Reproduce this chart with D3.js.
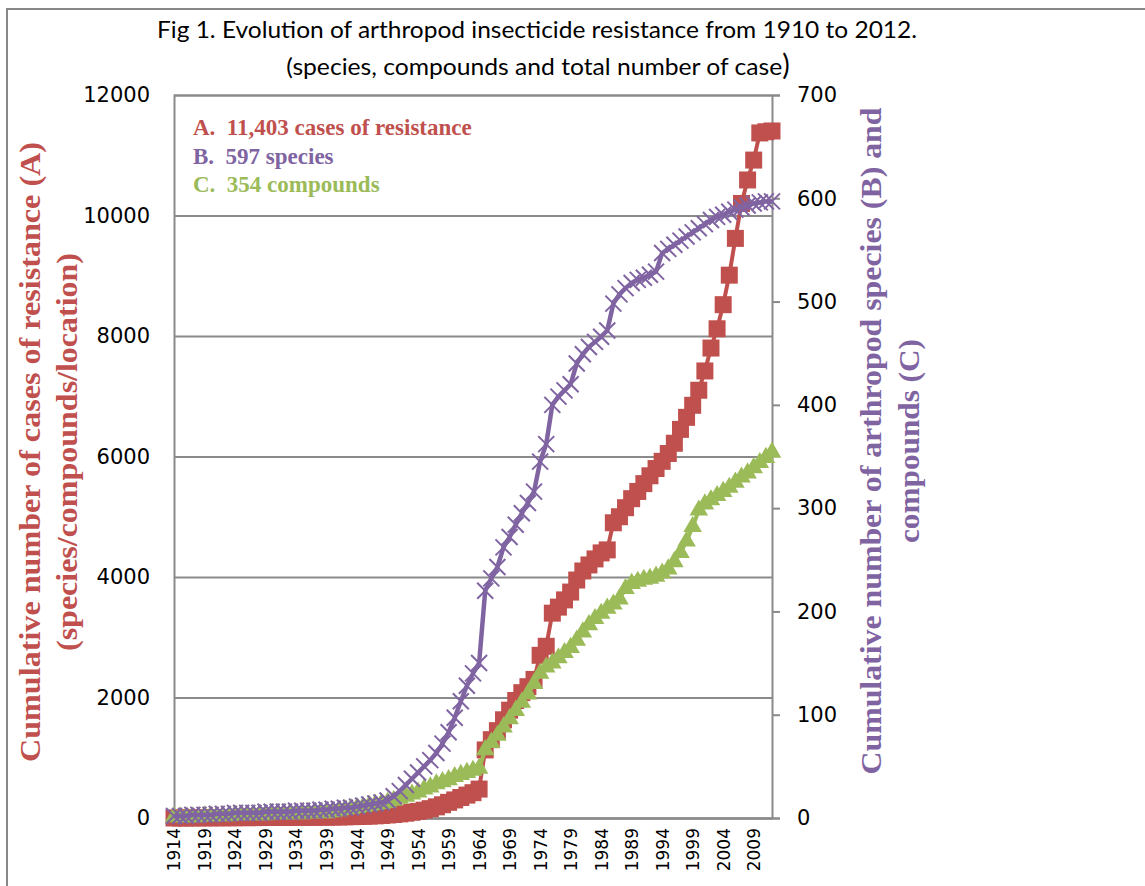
<!DOCTYPE html>
<html>
<head>
<meta charset="utf-8">
<script src="https://cdn.jsdelivr.net/npm/d3@7"></script>
<style>
  html, body { margin: 0; padding: 0; background: #ffffff; }
  svg { display: block; }
  text { white-space: pre; }
</style>
</head>
<body>
<svg id="chart" width="1145" height="886"></svg>
<script>
// ---------------- DATA ----------------
const years = [1914,1915,1916,1917,1918,1919,1920,1921,1922,1923,1924,1925,1926,1927,1928,1929,
  1930,1931,1932,1933,1934,1935,1936,1937,1938,1939,1940,1941,1942,1943,1944,1945,1946,1947,1948,1949,
  1950,1951,1952,1953,1954,1955,1956,1957,1958,1959,1960,1961,1962,1963,1964,1965,1966,1967,1968,1969,
  1970,1971,1972,1973,1974,1975,1976,1977,1978,1979,1980,1981,1982,1983,1984,1985,1986,1987,1988,1989,
  1990,1991,1992,1993,1994,1995,1996,1997,1998,1999,2000,2001,2002,2003,2004,2005,2006,2007,2008,2009,
  2010,2011,2012];

// A: cumulative cases of resistance (left axis)
const cases = [0,1,1,2,2,3,3,4,4,5,5,6,6,7,7,8,
  8,9,9,10,10,11,12,13,14,15,16,18,20,22,25,28,32,36,42,50,
  58,68,80,95,110,130,155,185,220,260,300,340,380,420,480,1130,1300,1450,1630,1790,
  1950,2080,2180,2300,2700,2850,3400,3500,3620,3750,3950,4100,4200,4300,4400,4450,4900,5000,5150,5300,
  5420,5550,5680,5800,5920,6050,6220,6450,6650,6850,7100,7420,7800,8120,8520,9010,9620,10200,10590,10920,
  11370,11390,11403];

// B: cumulative arthropod species (right axis)
const species = [2,2,2,3,3,3,3,4,4,4,5,5,5,5,5,6,
  6,6,6,6,7,7,7,7,8,8,9,9,10,10,11,12,13,14,15,17,
  21,26,32,38,44,50,56,63,72,83,97,113,128,140,150,220,232,243,262,272,
  284,295,305,316,345,362,400,408,414,420,440,449,456,461,466,472,498,507,513,518,
  521,523,526,529,547,551,555,559,563,567,571,575,579,582,584,587,589,591,593,595,
  596,597,597];

// C: cumulative compounds (right axis)
const compounds = [1,1,1,1,1,2,2,2,2,2,3,3,3,3,3,3,
  4,4,4,4,4,4,5,5,5,5,6,7,8,9,10,11,12,13,14,15,
  17,19,21,23,25,28,30,33,35,37,40,42,44,46,48,66,73,80,88,96,
  104,112,120,130,140,146,150,155,160,165,172,180,187,193,198,203,207,212,222,227,
  229,231,232,234,237,241,248,257,268,282,298,304,308,312,316,320,325,330,334,339,
  344,349,354];

const xTickYears = [1914,1919,1924,1929,1934,1939,1944,1949,1954,1959,1964,1969,1974,1979,1984,1989,1994,1999,2004,2009];
const leftTicks = [0,2000,4000,6000,8000,10000,12000];
const rightTicks = [0,100,200,300,400,500,600,700];

const titleLine1 = "Fig 1. Evolution of arthropod insecticide resistance from 1910 to 2012.";
const titleLine2 = "(species, compounds and total number of case";
const legendItems = ["A.  11,403 cases of resistance", "B.  597 species", "C.  354 compounds"];
const leftTitle = ["Cumulative number of cases of resistance (A)", "(species/compounds/location)"];
const rightTitle = ["Cumulative number of arthropod species (B) and", "compounds (C)"];

// ---------------- STYLE ----------------
const RED = "#C0504D", PURPLE = "#8064A2", GREEN = "#9BBB59", GRID = "#8a8a8a";
const plot = {left: 174, right: 772, top: 95, bottom: 818};

const svg = d3.select("#chart");

// outer frame
svg.append("rect").attr("x", 7).attr("y", 9).attr("width", 1300).attr("height", 1000)
  .attr("fill", "none").attr("stroke", "#888").attr("stroke-width", 2);

const x = d3.scalePoint().domain(years).range([plot.left, plot.right]);
const yL = d3.scaleLinear().domain([0, 12000]).range([plot.bottom, plot.top]);
const yR = d3.scaleLinear().domain([0, 700]).range([plot.bottom, plot.top]);

// gridlines (left axis) with labels
const gL = svg.append("g").attr("transform", `translate(${plot.left},0)`)
  .call(d3.axisLeft(yL).tickValues(leftTicks).tickSize(-(plot.right - plot.left)).tickPadding(24).tickFormat(d3.format("d")));
gL.select(".domain").attr("stroke", GRID).attr("stroke-width", 2);
gL.selectAll(".tick line").attr("stroke", GRID).attr("stroke-width", 2);
gL.selectAll(".tick text").attr("font-family", "DejaVu Sans").attr("font-size", 21).attr("fill", "#000");

// right axis
const gR = svg.append("g").attr("transform", `translate(${plot.right},0)`)
  .call(d3.axisRight(yR).tickValues(rightTicks).tickSize(8).tickPadding(17).tickFormat(d3.format("d")));
gR.select(".domain").attr("stroke", GRID).attr("stroke-width", 2);
gR.selectAll(".tick line").attr("stroke", GRID).attr("stroke-width", 2);
gR.selectAll(".tick text").attr("font-family", "DejaVu Sans").attr("font-size", 21).attr("fill", "#000");

// bottom axis
const gX = svg.append("g").attr("transform", `translate(0,${plot.bottom})`)
  .call(d3.axisBottom(x).tickValues(xTickYears).tickSize(0).tickPadding(0));
gX.select(".domain").attr("stroke", GRID).attr("stroke-width", 2);
gX.selectAll(".tick text")
  .attr("font-family", "DejaVu Sans").attr("font-size", 17).attr("fill", "#000")
  .attr("text-anchor", "end")
  .attr("transform", "translate(0,10) rotate(-90)")
  .attr("dy", "0.35em").attr("y", 0).attr("x", 0);

// ---------------- SERIES ----------------
const dataA = years.map((yr, i) => ({yr, v: cases[i]}));
const dataB = years.map((yr, i) => ({yr, v: species[i]}));
const dataC = years.map((yr, i) => ({yr, v: compounds[i]}));

// A - red squares
svg.append("path").datum(dataA)
  .attr("fill", "none").attr("stroke", RED).attr("stroke-width", 4).attr("stroke-linejoin", "round")
  .attr("d", d3.line().x(d => x(d.yr)).y(d => yL(d.v)));
svg.append("g").selectAll("path").data(dataA).join("path")
  .attr("transform", d => `translate(${x(d.yr)},${yL(d.v)})`)
  .attr("d", d3.symbol(d3.symbolSquare, 17 * 17))
  .attr("fill", RED);

// C - green triangles
svg.append("path").datum(dataC)
  .attr("fill", "none").attr("stroke", GREEN).attr("stroke-width", 4).attr("stroke-linejoin", "round")
  .attr("d", d3.line().x(d => x(d.yr)).y(d => yR(d.v)));
svg.append("g").selectAll("path").data(dataC).join("path")
  .attr("transform", d => `translate(${x(d.yr)},${yR(d.v)})`)
  .attr("d", d3.symbol(d3.symbolTriangle, 150))
  .attr("fill", GREEN);

// B - purple X
svg.append("path").datum(dataB)
  .attr("fill", "none").attr("stroke", PURPLE).attr("stroke-width", 4.5).attr("stroke-linejoin", "round")
  .attr("d", d3.line().x(d => x(d.yr)).y(d => yR(d.v)));
const h = 8;
svg.append("g").selectAll("path").data(dataB).join("path")
  .attr("transform", d => `translate(${x(d.yr)},${yR(d.v)})`)
  .attr("d", `M${-h},${-h}L${h},${h}M${-h},${h}L${h},${-h}`)
  .attr("stroke", PURPLE).attr("stroke-width", 2).attr("fill", "none");

// ---------------- TEXT ----------------
svg.append("text").attr("x", 537).attr("y", 38).attr("text-anchor", "middle")
  .attr("font-family", "Lato").attr("font-size", 23).attr("fill", "#000")
  .attr("textLength", 760).attr("lengthAdjust", "spacingAndGlyphs").text(titleLine1);
const t2 = svg.append("text").attr("x", 538).attr("y", 75).attr("text-anchor", "middle")
  .attr("font-family", "Lato").attr("font-size", 23).attr("fill", "#000");
t2.append("tspan").attr("textLength", 496).attr("lengthAdjust", "spacingAndGlyphs").text(titleLine2);
t2.append("tspan").attr("font-size", 28).text(")");

// legend
const legColors = [RED, PURPLE, GREEN];
svg.append("g").selectAll("text").data(legendItems).join("text")
  .attr("x", 193).attr("y", (d, i) => 135 + i * 28.5)
  .attr("font-family", "Liberation Serif").attr("font-weight", "bold").attr("font-size", 23)
  .attr("fill", (d, i) => legColors[i])
  .text(d => d);

// left title
svg.append("g").attr("transform", "translate(0,452)").selectAll("text").data(leftTitle).join("text")
  .attr("transform", (d, i) => `translate(${40 + i * 37},0) rotate(-90)`)
  .attr("text-anchor", "middle")
  .attr("font-family", "Liberation Serif").attr("font-weight", "bold").attr("font-size", 30)
  .attr("fill", RED)
  .attr("textLength", (d, i) => i === 0 ? 620 : 398).attr("lengthAdjust", "spacingAndGlyphs")
  .text(d => d);

// right title
svg.append("g").attr("transform", "translate(0,441)").selectAll("text").data(rightTitle).join("text")
  .attr("transform", (d, i) => `translate(${881 + i * 38},0) rotate(-90)`)
  .attr("text-anchor", "middle")
  .attr("font-family", "Liberation Serif").attr("font-weight", "bold").attr("font-size", 30)
  .attr("fill", PURPLE)
  .attr("textLength", (d, i) => i === 0 ? 667 : 204).attr("lengthAdjust", "spacingAndGlyphs")
  .text(d => d);
</script>
</body>
</html>
